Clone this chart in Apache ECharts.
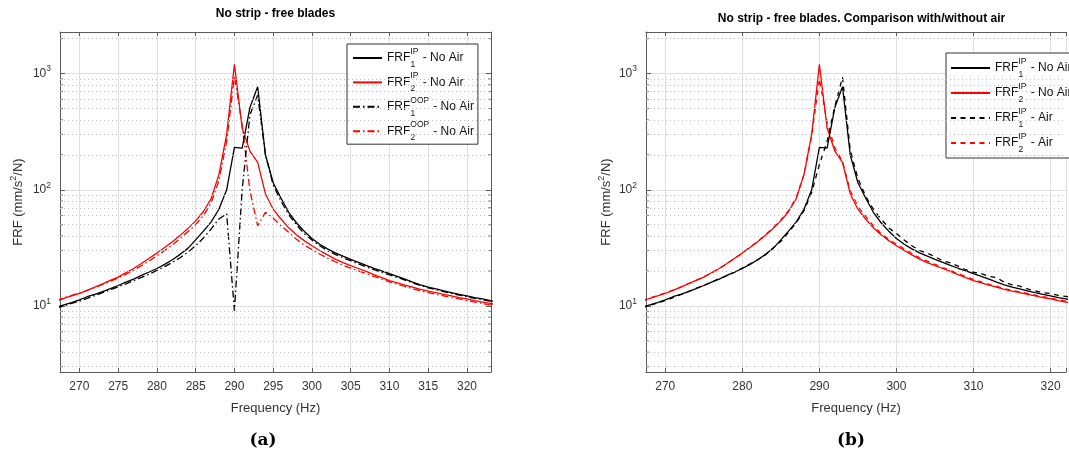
<!DOCTYPE html>
<html><head><meta charset="utf-8">
<script src="https://cdn.jsdelivr.net/npm/echarts@6/dist/echarts.min.js"></script>
<style>html,body{margin:0;padding:0;background:#fff}#c{width:1069px;height:454px}</style>
</head><body><div id="c"></div>
<script>
// ---- data ----
const freq = [267,268,269,270,271,272,273,274,275,276,277,278,279,280,281,282,283,284,285,286,287,288,289,290,291,292,293,294,295,296,297,298,299,300,301,302,303,304,305,306,307,308,309,310,311,312,313,314,315,316,317,318,319,320,321,322,323,324];
const ip1NoAir = [9.7,10.2,10.7,11.3,12.0,12.6,13.3,14.1,15.0,16.0,17.0,18.3,19.6,21.0,22.8,25.0,27.8,31.3,37,44,53,68,100,232,228,510,770,200,115,85,64,52,44,38,34,31,28.6,26.8,25.2,23.7,22.3,21.1,20.0,19.0,18.0,17.0,16.0,15.2,14.5,14.0,13.5,13.0,12.6,12.2,11.8,11.5,11.1,10.8];
const ip2NoAir = [11.0,11.6,12.2,12.8,13.6,14.5,15.5,16.6,17.7,19.3,21.0,23.2,25.7,28.5,31.8,35.7,40.5,46.5,54,65,84,135,300,1200,340,215,172,92,68,56,47,41,36.5,33,30,27.5,25.3,23.6,22.2,21.0,19.8,18.6,17.5,16.5,15.8,15.1,14.5,13.9,13.4,13.0,12.6,12.2,11.8,11.5,11.1,10.8,10.5,10.2];
const oop1NoAir = [9.6,10.0,10.5,11.0,11.6,12.3,13.0,13.8,14.6,15.5,16.5,17.6,18.8,20.2,21.8,23.7,26,29,33,38.5,46,56,62,9.1,100,440,650,200,110,80,61,50,42,37,33,30,27.8,26,24.5,23,21.7,20.5,19.5,18.5,17.6,16.7,15.8,15.0,14.3,13.8,13.3,12.8,12.4,12.0,11.6,11.3,11.0,10.7];
const oop2NoAir = [11.1,11.7,12.3,12.9,13.6,14.4,15.3,16.3,17.4,18.8,20.3,22.2,24.4,27,30,33.5,38,43.5,50,60,77,120,260,950,360,98,49,64,57,49,43,37.5,33.5,30.5,28,25.8,24,22.4,21.2,20.0,19.0,18.0,17.0,16.1,15.4,14.7,14.1,13.5,13.0,12.6,12.2,11.8,11.5,11.1,10.8,10.5,10.2,10.0];
const ip1Air = [9.7,10.1,10.6,11.1,11.8,12.5,13.3,14.2,15.0,16.0,17.2,18.2,19.5,21.2,23.0,25.0,27.5,31.5,36,43,52,66,95,165,260,520,930,220,125,88,68,56,47,42,37,33,30,28.5,26.5,24.5,23.5,22,20.5,19.5,19.0,18.0,17.5,16.0,15.2,14.8,14.0,13.5,13.0,12.8,12.3,12.1,11.6,11.3];
const ip2Air = [11.1,11.7,12.3,12.9,13.7,14.5,15.6,16.6,17.8,19.2,21.0,23.0,25.8,28.5,32,36,41,47,55,66,86,135,290,900,380,230,175,98,72,59,49,42,37.5,34,31,28.3,26,24.3,22.8,21.4,20.2,19.0,17.9,16.9,16.1,15.3,14.7,14.1,13.6,13.2,12.8,12.4,12.0,11.7,11.3,11.0,10.7,10.4];
const minorTicks = [3,4,5,6,7,8,9,20,30,40,50,60,70,80,90,200,300,400,500,600,700,800,900,2000];
const xRangeA = [267.5, 323.1];
const xRangeB = [267.5, 322.0];   // panel (b) is cut off by the right edge of the picture
const yRange = [2.7, 2280];

// ---- styling ----
const FONT = '"Liberation Sans", Arial, Helvetica, sans-serif';
const AX = '#5a5a5a';
const TXT = '#333333';
const GRIDC = '#e0e0e0';
const DASHDOT = [7, 3, 1.5, 3];
const DASH = [5, 4.5];
const LW = 1.3;

const pts = arr => freq.map((f, i) => [f, arr[i]]);

const legendParts = {
  'FRF1 IP - No Air': ['IP', '1', ' - No Air'],
  'FRF2 IP - No Air': ['IP', '2', ' - No Air'],
  'FRF1 OOP - No Air': ['OOP', '1', ' - No Air'],
  'FRF2 OOP - No Air': ['OOP', '2', ' - No Air'],
  'FRF1 IP - Air': ['IP', '1', ' - Air'],
  'FRF2 IP - Air': ['IP', '2', ' - Air']
};
const legendRich = {
  m: { fontSize: 12, fontFamily: FONT, color: '#111', lineHeight: 22 },
  p: { fontSize: 8.5, fontFamily: FONT, color: '#111', verticalAlign: 'top', width: 0.1 },
  si: { fontSize: 8.5, fontFamily: FONT, color: '#111', verticalAlign: 'bottom', width: 9 },
  so: { fontSize: 8.5, fontFamily: FONT, color: '#111', verticalAlign: 'bottom', width: 19.5 }
};
function legendFmt(name) {
  const p = legendParts[name];
  return '{m|FRF}{p|' + p[0] + '}{' + (p[0] === 'OOP' ? 'so' : 'si') + '|' + p[1] + '}{m|' + p[2] + '}';
}

function isDecade(v) { const l = Math.log10(v); return Math.abs(l - Math.round(l)) < 1e-6; }

function xAxes(gridIndex, step, range) {
  const base = {
    gridIndex, type: 'value', min: range[0], max: range[1], minInterval: step, maxInterval: step,
    axisLine: { show: true, onZero: false, lineStyle: { color: AX, width: 1 } },
    axisTick: { show: true, inside: true, length: 4, lineStyle: { color: AX } }
  };
  return [
    Object.assign({}, base, {
      position: 'bottom',
      splitLine: { show: true, lineStyle: { color: GRIDC, width: 1 } },
      axisLabel: { show: true, margin: 9, fontSize: 12, fontFamily: FONT, color: TXT,
        formatter: v => (Math.abs(v / step - Math.round(v / step)) < 1e-6 ? String(v) : '') },
      name: 'Frequency (Hz)', nameLocation: 'middle', nameGap: 30,
      nameTextStyle: { fontSize: 13, fontFamily: FONT, color: TXT }
    }),
    Object.assign({}, base, { position: 'top', splitLine: { show: false }, axisLabel: { show: false } })
  ];
}
function yAxes(gridIndex, nameGap, showRight) {
  const base = {
    gridIndex, type: 'log', logBase: 10, min: yRange[0], max: yRange[1],
    axisLine: { show: true, onZero: false, lineStyle: { color: AX, width: 1 } },
    axisTick: { show: true, inside: true, length: 5, lineStyle: { color: AX } }
  };
  return [
    Object.assign({}, base, {
      position: 'left',
      splitLine: { show: true, lineStyle: { color: GRIDC, width: 1 } },
      axisLabel: { show: true, margin: 9, fontFamily: FONT, color: TXT,
        formatter: v => isDecade(v) ? '{b|10}{e|' + Math.round(Math.log10(v)) + '}' : '',
        rich: {
          b: { fontSize: 12, fontFamily: FONT, color: TXT, lineHeight: 18 },
          e: { fontSize: 8.5, fontFamily: FONT, color: TXT, verticalAlign: 'top' }
        } },
      name: 'FRF (mm/s{sup|2}/N)', nameLocation: 'middle', nameRotate: 90, nameGap: nameGap,
      nameTextStyle: { fontSize: 13, fontFamily: FONT, color: TXT, lineHeight: 18,
        rich: { sup: { fontSize: 9, fontFamily: FONT, color: TXT, verticalAlign: 'top' } } }
    }),
    Object.assign({}, base, { position: 'right', splitLine: { show: false }, axisLabel: { show: false },
      axisLine: { show: showRight, onZero: false, lineStyle: { color: AX, width: 1 } },
      axisTick: { show: showRight, inside: true, length: 5, lineStyle: { color: AX } } })
  ];
}

function lineSeries(name, arr, color, dash, xi, yi) {
  return { name, type: 'line', xAxisIndex: xi, yAxisIndex: yi, data: pts(arr),
    showSymbol: false, symbol: 'none', z: 3, silent: true,
    lineStyle: { color, width: LW, type: dash }, itemStyle: { color } };
}
function helperSeries(xi, yi, range, withRightTicks) {
  const s = [{
    type: 'line', xAxisIndex: xi, yAxisIndex: yi, data: [[range[0], yRange[0]]],
    showSymbol: false, symbol: 'none', silent: true, z: 1, lineStyle: { opacity: 0 },
    markLine: { silent: true, symbol: 'none', animation: false, label: { show: false },
      lineStyle: { color: '#bdbdbd', width: 1, type: [1, 3] },
      data: minorTicks.map(v => ({ yAxis: v })) }
  }, {
    type: 'scatter', xAxisIndex: xi, yAxisIndex: yi, silent: true, clip: false, z: 4,
    symbol: 'rect', symbolSize: [3, 1], symbolOffset: [1.5, 0], itemStyle: { color: AX },
    data: minorTicks.map(v => [range[0], v])
  }];
  if (withRightTicks) s.push({
    type: 'scatter', xAxisIndex: xi, yAxisIndex: yi, silent: true, clip: false, z: 4,
    symbol: 'rect', symbolSize: [3, 1], symbolOffset: [-1.5, 0], itemStyle: { color: AX },
    data: minorTicks.map(v => [range[1], v])
  });
  return s;
}

const legendCommon = {
  orient: 'vertical', itemHeight: 10, selectedMode: false,
  backgroundColor: '#fff', borderColor: '#333', borderWidth: 1,
  itemStyle: { opacity: 0 },
  formatter: legendFmt, textStyle: { rich: legendRich }
};

const chart = echarts.init(document.getElementById('c'), null, { renderer: 'canvas' });
chart.setOption({
  animation: false,
  backgroundColor: '#fff',
  title: [
    { text: 'No strip - free blades', left: 275.5, top: 8, textAlign: 'center', padding: 0,
      textStyle: { fontSize: 12, fontWeight: 'bold', fontFamily: FONT, color: '#000' } },
    { text: 'No strip - free blades. Comparison with/without air', left: 861.5, top: 13, textAlign: 'center', padding: 0,
      textStyle: { fontSize: 12, fontWeight: 'bold', fontFamily: FONT, color: '#000' } }
  ],
  grid: [
    { left: 60, top: 32, width: 431, height: 340, containLabel: false },
    { left: 646, top: 32, width: 423, height: 340, containLabel: false }
  ],
  xAxis: [].concat(xAxes(0, 5, xRangeA), xAxes(1, 10, xRangeB)),
  yAxis: [].concat(yAxes(0, 33, true), yAxes(1, 29, false)),
  legend: [
    Object.assign({}, legendCommon, { left: 347, top: 44, itemWidth: 29, itemGap: 2.4,
      padding: [3, 4, 2, 5],
      data: ['FRF1 IP - No Air', 'FRF2 IP - No Air', 'FRF1 OOP - No Air', 'FRF2 OOP - No Air'] }),
    Object.assign({}, legendCommon, { left: 946, top: 53, itemWidth: 39, itemGap: 3,
      padding: [4, 4, 4, 4],
      data: ['FRF1 IP - No Air', 'FRF2 IP - No Air', 'FRF1 IP - Air', 'FRF2 IP - Air'] })
  ],
  graphic: [
    { type: 'text', x: 263, y: 441, style: { text: '(a)', font: 'bold 17px "DejaVu Serif", serif', fill: '#000', align: 'center', verticalAlign: 'middle' } },
    { type: 'text', x: 851, y: 441, style: { text: '(b)', font: 'bold 17px "DejaVu Serif", serif', fill: '#000', align: 'center', verticalAlign: 'middle' } }
  ],
  series: [].concat(
    helperSeries(0, 0, xRangeA, true),
    helperSeries(2, 2, xRangeB, false),
    [
      lineSeries('FRF2 OOP - No Air', oop2NoAir, '#ff0000', DASHDOT, 0, 0),
      lineSeries('FRF1 OOP - No Air', oop1NoAir, '#000000', DASHDOT, 0, 0),
      lineSeries('FRF2 IP - No Air', ip2NoAir, '#ff0000', 'solid', 0, 0),
      lineSeries('FRF1 IP - No Air', ip1NoAir, '#000000', 'solid', 0, 0),
      lineSeries('FRF2 IP - Air', ip2Air, '#ff0000', DASH, 2, 2),
      lineSeries('FRF1 IP - Air', ip1Air, '#000000', DASH, 2, 2),
      lineSeries('FRF2 IP - No Air', ip2NoAir, '#ff0000', 'solid', 2, 2),
      lineSeries('FRF1 IP - No Air', ip1NoAir, '#000000', 'solid', 2, 2)
    ]
  )
});
</script>
</body></html>
